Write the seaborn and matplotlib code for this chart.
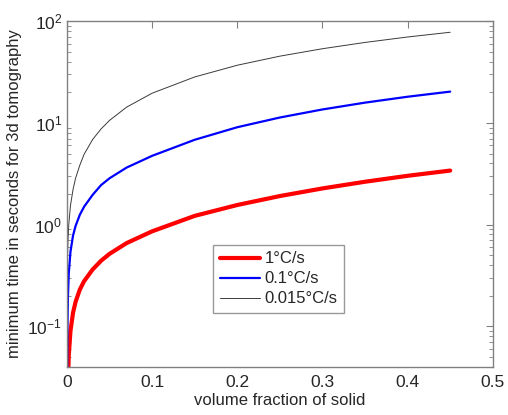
import matplotlib
matplotlib.use("Agg")
import matplotlib.pyplot as plt
import numpy as np
import pandas as pd
import seaborn as sns
from matplotlib.ticker import FixedLocator, FixedFormatter, LogLocator

# values
VOLUME_FRACTION = [0.00005, 0.0001, 0.0002, 0.0005, 0.001, 0.002, 0.004, 0.007,
                   0.01, 0.015, 0.02, 0.03, 0.04, 0.05, 0.07, 0.1, 0.15, 0.2,
                   0.25, 0.3, 0.35, 0.4, 0.45]
TIME_1 = [0.002, 0.004, 0.007, 0.015, 0.028, 0.052, 0.090, 0.136, 0.174, 0.23,
          0.278, 0.362, 0.442, 0.517, 0.659, 0.86, 1.22, 1.56, 1.91, 2.27,
          2.64, 3.02, 3.40]
TIME_01 = [0.012, 0.02, 0.04, 0.10, 0.19, 0.33, 0.54, 0.78, 0.97, 1.25, 1.50,
           1.96, 2.45, 2.86, 3.64, 4.75, 6.83, 9.07, 11.3, 13.56, 15.82, 18.08,
           20.3]
TIME_0015 = [0.03, 0.12, 0.25, 0.45, 0.67, 1.0, 1.54, 2.21, 2.86, 3.84, 4.91,
             6.86, 8.74, 10.6, 14.3, 19.6, 28.3, 36.9, 45.3, 53.6, 61.8, 69.9,
             77.8]
SERIES_LABELS = ["1\u00b0C/s", "0.1\u00b0C/s", "0.015\u00b0C/s"]
X_TICKS = [0, 0.1, 0.2, 0.3, 0.4, 0.5]
X_TICK_LABELS = ["0", "0.1", "0.2", "0.3", "0.4", "0.5"]

sns.set_style("white")
plt.rcParams["font.family"] = ["Liberation Sans", "DejaVu Sans"]
plt.rcParams["mathtext.default"] = "regular"

data = pd.DataFrame({
    "fraction": VOLUME_FRACTION * 3,
    "time": TIME_1 + TIME_01 + TIME_0015,
    "rate": [SERIES_LABELS[0]] * len(TIME_1) + [SERIES_LABELS[1]] * len(TIME_01)
            + [SERIES_LABELS[2]] * len(TIME_0015),
})

fig = plt.figure(figsize=(5.08, 4.15), dpi=100)
ax = fig.add_axes([0.132, 0.116, 0.838, 0.833])

styles = {SERIES_LABELS[0]: ("#ff0000", 3.0),
          SERIES_LABELS[1]: ("#0000ff", 1.6),
          SERIES_LABELS[2]: ("#3a3a3a", 0.7)}
for label in SERIES_LABELS:
    color, width = styles[label]
    sns.lineplot(data=data[data.rate == label], x="fraction", y="time",
                 color=color, linewidth=width, label=label, ax=ax,
                 estimator=None, sort=True)

ax.set_yscale("log")
ax.set_xlim(0, 0.5)
ax.set_ylim(0.04, 100)
ax.xaxis.set_major_locator(FixedLocator(X_TICKS))
ax.xaxis.set_major_formatter(FixedFormatter(X_TICK_LABELS))
ax.yaxis.set_major_locator(LogLocator(base=10, numticks=10))
ax.yaxis.set_minor_locator(LogLocator(base=10, subs=np.arange(2, 10), numticks=20))

ax.set_xlabel("volume fraction of solid", fontsize=12, color="#262626", labelpad=2)
ax.set_ylabel("minimum time in seconds for 3d tomography", fontsize=12,
              color="#262626", labelpad=4)

for spine in ax.spines.values():
    spine.set_visible(True)
    spine.set_color("#808080")
    spine.set_linewidth(1.0)
ax.tick_params(which="both", direction="in", top=True, right=True,
               colors="#808080", labelcolor="#262626", labelsize=12.5)
ax.tick_params(which="major", length=5)
ax.tick_params(which="minor", length=3, left=True, right=True)
ax.tick_params(axis="x", pad=6)

leg = ax.legend(loc="upper left", bbox_to_anchor=(0.343, 0.353), borderaxespad=0,
                fontsize=12, frameon=True, fancybox=False, edgecolor="#808080",
                handlelength=2.4, handletextpad=0.3, borderpad=0.4,
                labelspacing=0.3)
leg.get_frame().set_linewidth(1.0)

fig.savefig("out.png", dpi=100)
